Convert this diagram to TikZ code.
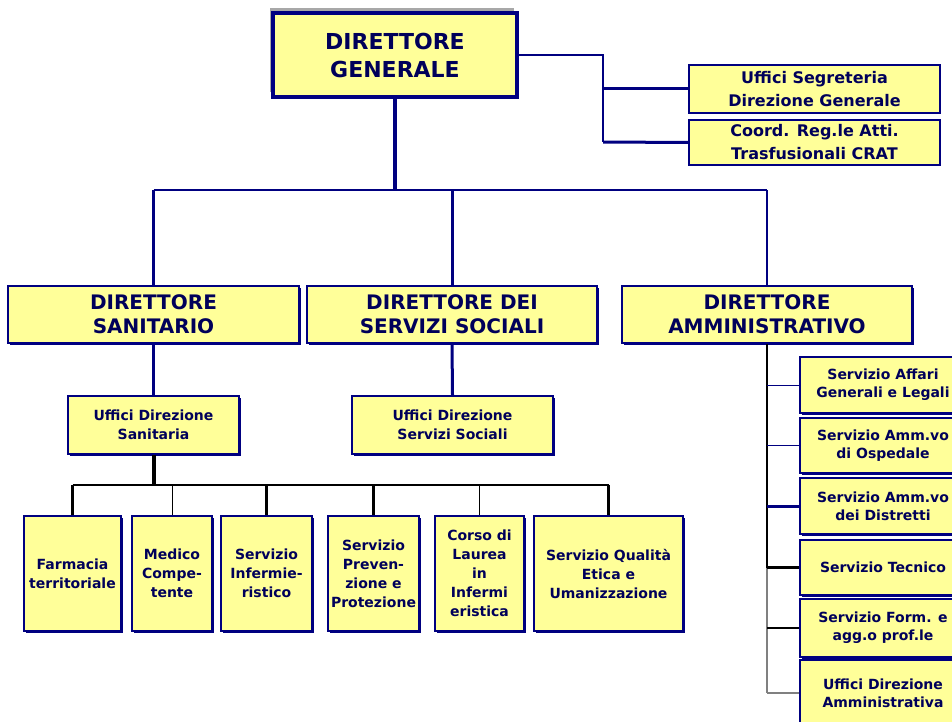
\documentclass[tikz,border=0pt]{standalone}
\usepackage{fontspec}
\setmainfont{DejaVu Sans}
\usetikzlibrary{shadows}
\definecolor{boxfill}{HTML}{FFFF99}
\definecolor{navy}{HTML}{000080}
\definecolor{ink}{HTML}{00005A}
\definecolor{shade}{HTML}{A8A8A8}
\tikzset{
  box/.style={draw=navy, fill=boxfill, line width=1.5pt, inner sep=0pt, align=center, text=ink},
  nshadow/.style={drop shadow={shadow xshift=1.8pt, shadow yshift=-1.8pt, fill=navy, opacity=1}},
  dgbox/.style={box, line width=3.5pt, font=\bfseries\fontsize{22}{28}\selectfont,
    drop shadow={shadow xshift=-3pt, shadow yshift=5pt, fill=shade, opacity=1}},
  topbox/.style={box, line width=2.5pt, font=\bfseries\fontsize{16}{23}\selectfont},
  lvtwo/.style={box, nshadow, font=\bfseries\fontsize{20}{24}\selectfont},
  ufbox/.style={box, nshadow, font=\bfseries\fontsize{14}{19}\selectfont},
  botbox/.style={box, nshadow, font=\bfseries\fontsize{14}{19}\selectfont},
  rbox/.style={box, line width=2pt, nshadow, font=\bfseries\fontsize{14}{18}\selectfont},
  conn/.style={line width=#1},
}
\newcommand\mybox[7][]{\node[#1, minimum width={(#5-#3)*1pt}, minimum height={(#6-#4)*1pt}] (#2) at ({(#3+#5)/2},{(#4+#6)/2}) {#7};}
\begin{document}
\begin{tikzpicture}[x=1pt,y=-1pt]
\useasboundingbox (0,0) rectangle (952,722);
% boxes
\mybox[dgbox]{dg}{273}{13}{517}{97}{DIRETTORE\\GENERALE}
\mybox[topbox]{seg}{689}{65}{940}{113}{Uffici Segreteria\\Direzione Generale}
\mybox[topbox]{crat}{689}{120}{940}{165}{Coord. Reg.le Atti.\\Trasfusionali CRAT}
\mybox[lvtwo]{ds}{8}{286}{299}{343}{DIRETTORE\\SANITARIO}
\mybox[lvtwo]{dss}{307}{286}{597}{343}{DIRETTORE DEI\\SERVIZI SOCIALI}
\mybox[lvtwo]{da}{622}{286}{912}{343}{DIRETTORE\\AMMINISTRATIVO}
\mybox[ufbox]{uds}{68}{396}{239}{454}{Uffici Direzione\\Sanitaria}
\mybox[ufbox]{udss}{352}{396}{553}{454}{Uffici Direzione\\Servizi Sociali}
\mybox[botbox]{farm}{24}{516}{121}{631}{Farmacia\\territoriale}
\mybox[botbox]{med}{132}{516}{212}{631}{Medico\\Compe-\\tente}
\mybox[botbox]{inf}{221}{516}{312}{631}{Servizio\\Infermie-\\ristico}
\mybox[botbox]{prev}{328}{516}{419}{631}{Servizio\\Preven-\\zione e\\Protezione}
\mybox[botbox]{corso}{435}{516}{524}{631}{Corso di\\Laurea\\in\\Infermi\\eristica}
\mybox[botbox]{qual}{534}{516}{683}{631}{Servizio Qualità\\Etica e\\Umanizzazione}
\mybox[rbox]{ra}{800}{357}{966}{413}{Servizio Affari\\Generali e Legali}
\mybox[rbox]{rb}{800}{418}{966}{473}{Servizio Amm.vo\\di Ospedale}
\mybox[rbox]{rc}{800}{478}{966}{534}{Servizio Amm.vo\\dei Distretti}
\mybox[rbox]{rd}{800}{540}{966}{595}{Servizio Tecnico}
\mybox[rbox]{re}{800}{599}{966}{657}{Servizio Form. e\\agg.o prof.le}
\mybox[rbox]{rf}{800}{660}{966}{726}{Uffici Direzione\\Amministrativa}
% DG to staff offices
\coordinate (rj) at (603,142);
\draw[navy, conn=1.5pt] (dg.east) -| (rj);
\draw[navy, conn=3pt] (rj) -- (crat.west);
\draw[navy, conn=3pt] (rj |- seg.west) -- (seg.west);
% DG to level two
\coordinate (bus) at (395,190);
\draw[navy, conn=3.5pt] (dg.south) -- (bus);
\draw[navy, conn=2pt] (ds.north |- bus) -- (da.north |- bus);
\draw[navy, conn=3pt] (ds.north |- bus) -- (ds.north);
\draw[navy, conn=3pt] (dss.north |- bus) -- (dss.north);
\draw[navy, conn=1.5pt] (da.north |- bus) -- (da.north);
% level two to offices
\draw[navy, conn=3pt] (ds.south) -- (uds.north);
\draw[navy, conn=3pt] (dss.south) -- (udss.north);
% sanitary services
\coordinate (sb) at (153.5,485);
\draw[black, conn=4pt] (uds.south) -- (sb);
\draw[black, conn=2pt] (farm.north |- sb) -- (qual.north |- sb);
\draw[black, conn=3.5pt] (farm.north |- sb) -- (farm.north);
\draw[black, conn=1pt] (med.north |- sb) -- (med.north);
\draw[black, conn=3pt] (inf.north |- sb) -- (inf.north);
\draw[black, conn=3pt] (prev.north |- sb) -- (prev.north);
\draw[black, conn=1pt] (corso.north |- sb) -- (corso.north);
\draw[black, conn=3pt] (qual.north |- sb) -- (qual.north);
% administrative services
\draw[black, conn=2pt] (da.south) -- (da.south |- rd.west);
\draw[gray, conn=1.5pt] (da.south |- rd.west) -- (da.south |- rf.west);
\draw[navy, conn=1pt] (da.south |- ra.west) -- (ra.west);
\draw[navy, conn=1pt] (da.south |- rb.west) -- (rb.west);
\draw[navy, conn=3pt] (da.south |- rc.west) -- (rc.west);
\draw[black, conn=3pt] (da.south |- rd.west) -- (rd.west);
\draw[black, conn=1.5pt] (da.south |- re.west) -- (re.west);
\draw[gray, conn=1.5pt] (da.south |- rf.west) -- (rf.west);
\end{tikzpicture}
\end{document}
